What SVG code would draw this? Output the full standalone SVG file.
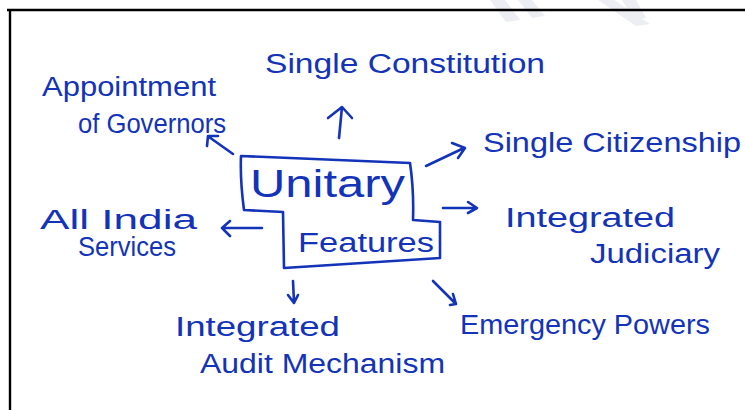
<svg xmlns="http://www.w3.org/2000/svg" width="745" height="410" viewBox="0 0 745 410">
  <style>
    .ink { fill: none; stroke: #1333b8; stroke-width: 2.6; stroke-linecap: round; stroke-linejoin: round; }
    .lbl { font-family: "Liberation Sans", "DejaVu Sans", sans-serif; fill: #1333b8; font-size: 27px; }
    .big { font-size: 38px; }
    .frame { stroke: #000; stroke-width: 2.4; fill: none; }
    .wm { fill: #eceef3; }
  </style>

  <rect width="745" height="410" fill="#fff"/>

  <!-- faint watermark strokes along the top edge -->
  <g id="watermark">
    <polygon class="wm" points="490,0 505,0 520,20 506,22"/>
    <polygon class="wm" points="518,0 532,0 545,16 532,18"/>
    <polygon class="wm" points="598,0 614,0 650,24 636,26"/>
    <polygon class="wm" points="622,0 636,0 646,18 634,20"/>
  </g>

  <!-- page frame -->
  <g id="frame">
    <line class="frame" x1="7" y1="10" x2="745" y2="10"/>
    <line class="frame" x1="10" y1="9" x2="10" y2="410"/>
  </g>

  <!-- central node -->
  <g id="unitary-features">
    <path class="ink" d="M241,156 L410,163 Q414,190 413,220 L440,222 L440,258 L284,268 L283,212 L244,210 Q240,180 241,156 Z"/>
    <text class="lbl big" x="250" y="197" textLength="155" lengthAdjust="spacingAndGlyphs">Unitary</text>
    <text class="lbl" x="298" y="252" font-size="30" textLength="136" lengthAdjust="spacingAndGlyphs">Features</text>
  </g>

  <g id="single-constitution">
    <text class="lbl" x="265" y="73" textLength="280" lengthAdjust="spacingAndGlyphs">Single Constitution</text>
  </g>

  <g id="appointment-of-governors">
    <text class="lbl" x="42" y="96" textLength="174" lengthAdjust="spacingAndGlyphs">Appointment</text>
    <text class="lbl" x="78" y="133" textLength="148" lengthAdjust="spacingAndGlyphs">of Governors</text>
  </g>

  <g id="single-citizenship">
    <text class="lbl" x="483" y="152" textLength="258" lengthAdjust="spacingAndGlyphs">Single Citizenship</text>
  </g>

  <g id="all-india-services">
    <text class="lbl" x="40" y="229" textLength="157" lengthAdjust="spacingAndGlyphs">All India</text>
    <text class="lbl" x="78" y="256" font-size="24" textLength="98" lengthAdjust="spacingAndGlyphs">Services</text>
  </g>

  <g id="integrated-judiciary">
    <text class="lbl" x="505" y="227" textLength="170" lengthAdjust="spacingAndGlyphs">Integrated</text>
    <text class="lbl" x="590" y="263" textLength="130" lengthAdjust="spacingAndGlyphs">Judiciary</text>
  </g>

  <g id="integrated-audit-mechanism">
    <text class="lbl" x="175" y="336" textLength="165" lengthAdjust="spacingAndGlyphs">Integrated</text>
    <text class="lbl" x="200" y="373" textLength="245" lengthAdjust="spacingAndGlyphs">Audit Mechanism</text>
  </g>

  <g id="emergency-powers">
    <text class="lbl" x="460" y="334" textLength="250" lengthAdjust="spacingAndGlyphs">Emergency Powers</text>
  </g>

  <!-- connectors: shafts with open hand-drawn heads -->
  <g id="connectors" class="ink">
    <path d="M339,138 L342,107 M328,118 L342,107 L352,118"/>
    <path d="M233,154 L209,137 M207,146 L208,136 L218,136"/>
    <path d="M426,166 L464,148 M452,143 L465,148 L458,158"/>
    <path d="M443,208 L476,208 M468,202 L477,208 L468,213"/>
    <path d="M262,228 L222,228 M230,221 L222,228 L230,236"/>
    <path d="M293,281 L294,302 M288,295 L294,303 L298,295"/>
    <path d="M433,281 L455,303 M453,294 L456,304 L450,305"/>
  </g>
</svg>
